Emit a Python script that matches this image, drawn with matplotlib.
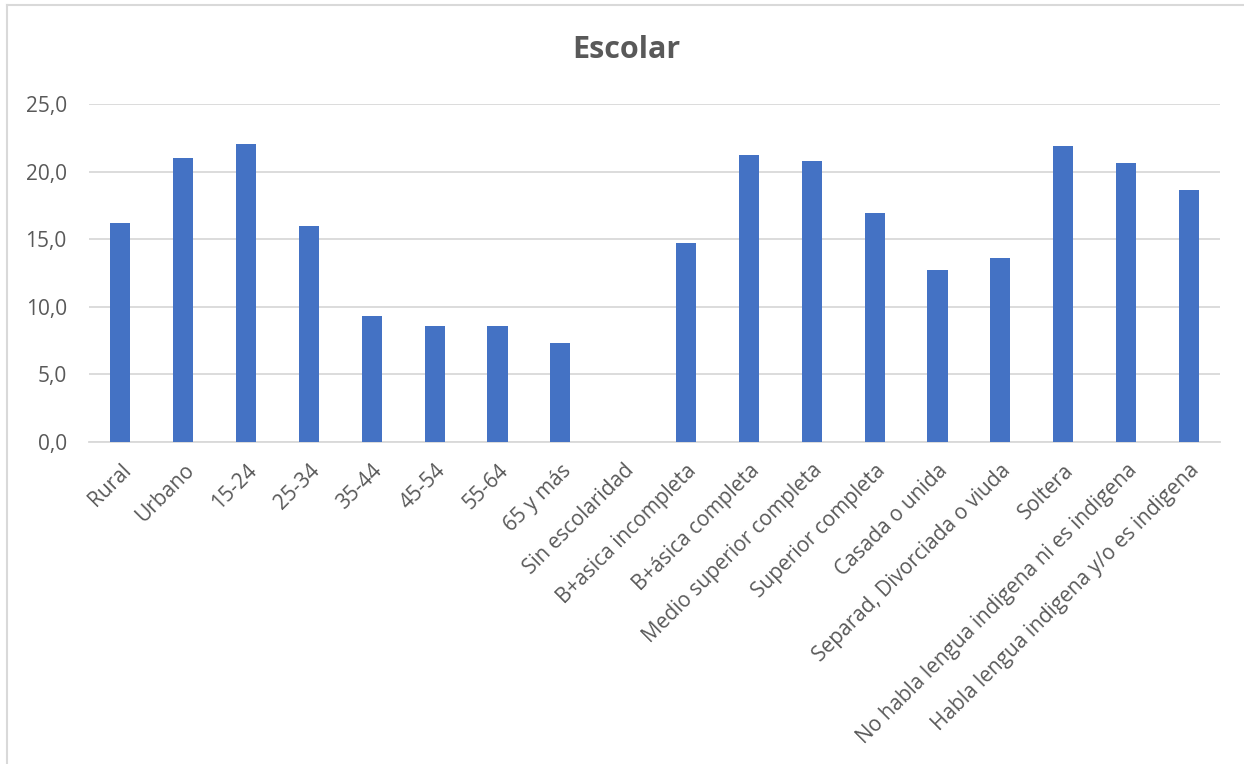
import matplotlib.pyplot as plt
from matplotlib.lines import Line2D
from matplotlib.ticker import FuncFormatter

categorias = ["Rural", "Urbano", "15-24", "25-34", "35-44", "45-54", "55-64",
              "65 y más", "Sin escolaridad", "B+asica incompleta", "B+ásica completa",
              "Medio superior completa", "Superior completa", "Casada o unida",
              "Separad, Divorciada o viuda", "Soltera",
              "No habla lengua indigena ni es indigena",
              "Habla lengua indigena y/o es indigena"]
valores = [16.2, 21.0, 22.0, 16.0, 9.3, 8.6, 8.6, 7.3, 0.0, 14.7, 21.2,
           20.8, 16.9, 12.7, 13.6, 21.9, 20.6, 18.6]
yticks = [0, 5, 10, 15, 20, 25]

plt.rcParams['font.family'] = ['Open Sans', 'DejaVu Sans']
gris = "#595959"

fig = plt.figure(figsize=(12.44, 7.64), dpi=100)
ax = fig.add_axes([0.0715, 0.4215, 0.9095, 0.4425])

x = range(len(categorias))
ax.bar(x, valores, width=0.32, color="#4472C4", zorder=3)

ax.set_xlim(-0.5, len(categorias) - 0.5)
ax.set_ylim(0, 25)
ax.set_yticks(yticks)
ax.yaxis.set_major_formatter(FuncFormatter(lambda v, p: f"{v:.1f}".replace(".", ",")))
ax.set_xticks(list(x))
ax.set_xticklabels(categorias, rotation=45, ha="right", rotation_mode="anchor")

ax.grid(axis="y", color="#D9D9D9", linewidth=1.3, zorder=0)
for s in ["top", "right", "left"]:
    ax.spines[s].set_visible(False)
ax.spines["bottom"].set_color("#D9D9D9")
ax.spines["bottom"].set_linewidth(1.3)
ax.tick_params(axis="both", length=0, labelcolor=gris)
ax.tick_params(axis="y", pad=16, labelsize=15)
ax.tick_params(axis="x", pad=13, labelsize=15)

fig.text(0.5035, 0.924, "Escolar", ha="center", va="baseline", fontsize=22,
         fontweight="bold", color=gris)

# borde del grafico
fig.add_artist(Line2D([0.0056, 0.0056], [0, 0.9935], color="#D9D9D9", linewidth=1.5))
fig.add_artist(Line2D([0.0056, 1], [0.9935, 0.9935], color="#D9D9D9", linewidth=1.5))

fig.savefig("out.png", dpi=100)
